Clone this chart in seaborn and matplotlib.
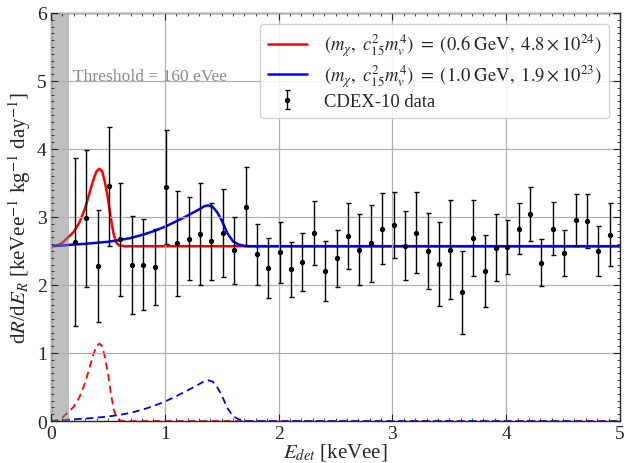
import numpy as np
import pandas as pd
import matplotlib
matplotlib.use("Agg")
import matplotlib.pyplot as plt
from matplotlib.ticker import MultipleLocator
import seaborn as sns

# CDEX-10 spectrum: bin centres, rates and 1-sigma errors
e_data = [0.21, 0.31, 0.41, 0.51, 0.61, 0.71, 0.81, 0.91, 1.01, 1.11,
          1.21, 1.31, 1.41, 1.51, 1.61, 1.71, 1.81, 1.91, 2.01, 2.11,
          2.21, 2.31, 2.41, 2.51, 2.61, 2.71, 2.81, 2.91, 3.01, 3.11,
          3.21, 3.31, 3.41, 3.51, 3.61, 3.71, 3.81, 3.91, 4.01, 4.11,
          4.21, 4.31, 4.41, 4.51, 4.61, 4.71, 4.81, 4.91]
rate_data = [2.63, 2.98, 2.28, 3.45, 2.67, 2.30, 2.30, 2.26, 3.44, 2.61,
             2.68, 2.75, 2.64, 2.76, 2.51, 3.15, 2.45, 2.25, 2.48, 2.23,
             2.34, 2.77, 2.20, 2.39, 2.72, 2.52, 2.61, 2.83, 2.88, 2.58,
             2.77, 2.50, 2.31, 2.52, 1.89, 2.69, 2.21, 2.55, 2.56, 2.83,
             3.04, 2.33, 2.83, 2.47, 2.96, 2.94, 2.50, 2.74]
rate_err = [1.23, 1.01, 0.82, 0.87, 0.83, 0.72, 0.67, 0.56, 0.84, 0.77,
            0.61, 0.75, 0.56, 0.65, 0.49, 0.58, 0.45, 0.44, 0.45, 0.40,
            0.43, 0.47, 0.44, 0.42, 0.48, 0.52, 0.57, 0.52, 0.48, 0.51,
            0.60, 0.56, 0.62, 0.73, 0.61, 0.56, 0.53, 0.49, 0.40, 0.38,
            0.40, 0.34, 0.39, 0.34, 0.38, 0.40, 0.37, 0.46]

# flat background level
background = 2.57

# DM signal, m = 0.6 GeV
e_sig_a = [0.0, 0.05, 0.1, 0.15, 0.2, 0.25, 0.3, 0.35, 0.375, 0.4, 0.425,
           0.45, 0.475, 0.5, 0.525, 0.55, 0.575, 0.6, 0.65, 5.0]
sig_a = [0.0, 0.01, 0.05, 0.13, 0.21, 0.35, 0.56, 0.85, 0.99, 1.10, 1.14,
         1.10, 0.93, 0.71, 0.42, 0.18, 0.05, 0.01, 0.0, 0.0]

# DM signal, m = 1.0 GeV
e_sig_b = [0.0, 0.1, 0.2, 0.3, 0.4, 0.5, 0.6, 0.7, 0.8, 0.9, 1.0, 1.1, 1.2,
           1.3, 1.35, 1.38, 1.42, 1.46, 1.5, 1.55, 1.6, 1.65, 1.7, 1.75, 5.0]
sig_b = [0.0, 0.01, 0.025, 0.035, 0.05, 0.065, 0.09, 0.12, 0.165, 0.22,
         0.285, 0.365, 0.45, 0.54, 0.59, 0.60, 0.58, 0.50, 0.38, 0.19,
         0.07, 0.025, 0.005, 0.0, 0.0]

threshold = 0.16

label_a = r'$(m_\chi,\ c_{15}^2 m_v^4)\ =\ (0.6\ \mathrm{GeV},\ 4.8\times10^{24})$'
label_b = r'$(m_\chi,\ c_{15}^2 m_v^4)\ =\ (1.0\ \mathrm{GeV},\ 1.9\times10^{23})$'

sns.set_style("ticks")
plt.rcParams['font.family'] = ['Liberation Serif', 'DejaVu Serif']
plt.rcParams['mathtext.fontset'] = 'stix'
plt.rcParams['xtick.direction'] = 'in'
plt.rcParams['ytick.direction'] = 'in'

df_a = pd.DataFrame({"E": e_sig_a, "signal": sig_a})
df_a["total"] = df_a["signal"] + background
df_b = pd.DataFrame({"E": e_sig_b, "signal": sig_b})
df_b["total"] = df_b["signal"] + background

fig = plt.figure(figsize=(6.35, 4.64), dpi=100)
ax = fig.add_axes([0.0803, 0.0905, 0.8961, 0.8795])

sns.lineplot(data=df_a, x="E", y="total", color="red", lw=1.8, ax=ax,
             label=label_a, zorder=2)
sns.lineplot(data=df_b, x="E", y="total", color="blue", lw=1.8, ax=ax,
             label=label_b, zorder=2.1)
sns.lineplot(data=df_a, x="E", y="signal", color="red", lw=1.3, ax=ax,
             linestyle=(0, (4, 2.5)), zorder=2)
sns.lineplot(data=df_b, x="E", y="signal", color="blue", lw=1.3, ax=ax,
             linestyle=(0, (4, 2.5)), zorder=2.1)

ax.errorbar(e_data, rate_data, yerr=rate_err, fmt='o', color='black',
            ms=2.8, elinewidth=1.0, capsize=1.8, capthick=1.0,
            label='CDEX-10 data', zorder=3)

# region below threshold
ax.axvspan(0, threshold, color='#808080', alpha=0.5, lw=0, zorder=2.3)
ax.text(0.19, 5.07, 'Threshold = 160 eVee', color='#8c8c8c', fontsize=12.6,
        va='center', ha='left')

ax.set_xlim(0, 5)
ax.set_ylim(0, 6)
ax.xaxis.set_major_locator(MultipleLocator(1))
ax.xaxis.set_minor_locator(MultipleLocator(0.1))
ax.yaxis.set_major_locator(MultipleLocator(1))
ax.yaxis.set_minor_locator(MultipleLocator(0.1))
ax.tick_params(which='both', top=True, right=True, direction='in')
ax.tick_params(which='major', length=5, width=0.8, labelsize=14, pad=3)
ax.tick_params(which='minor', length=2.5, width=0.6)
ax.grid(True, which='major', color='#b0b0b0', lw=0.9, zorder=2.5)
ax.set_axisbelow(False)
for s in ax.spines.values():
    s.set_linewidth(1.0)

ax.set_xlabel(r'$E_{det}$ [keVee]', fontsize=15, labelpad=-1)
ax.set_ylabel(r'd$R$/d$E_R$ [keVee$^{-1}$ kg$^{-1}$ day$^{-1}$]',
              fontsize=15, labelpad=3)

ax.legend(loc='upper right', fontsize=13.4, frameon=True, fancybox=True,
          framealpha=0.85, edgecolor='#cccccc', handlelength=2.1,
          handletextpad=0.9, borderaxespad=0.6, labelspacing=0.25,
          borderpad=0.4)

fig.savefig('out.png', dpi=100)
